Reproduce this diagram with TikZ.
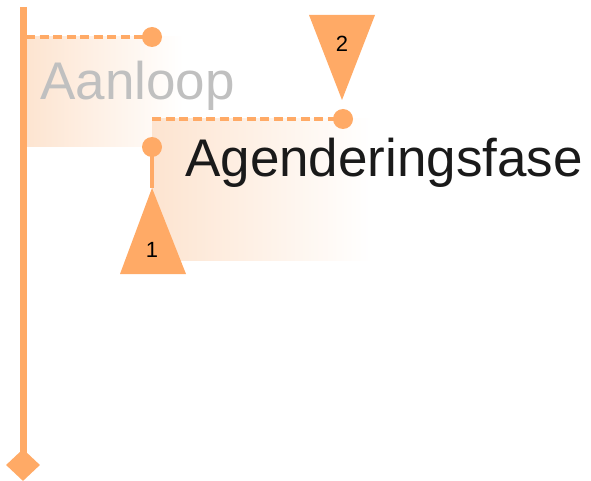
\documentclass[tikz,border=0pt]{standalone}
\usepackage{fontspec}
\setmainfont{Liberation Sans}
\usetikzlibrary{shapes.geometric}
\definecolor{flagorange}{RGB}{255,170,102}
\definecolor{peach}{RGB}{253,228,208}
\definecolor{fadedtext}{RGB}{192,192,192}
\definecolor{darktext}{RGB}{26,26,26}
\begin{document}
\begin{tikzpicture}[x=1pt,y=-1pt,
  flagfill/.style={left color=peach,right color=white,draw=none},
  dashline/.style={draw=flagorange,line width=3.6pt,dash pattern=on 9pt off 4.5pt},
  dot/.style={circle,fill=flagorange,draw=none,minimum size=20pt,inner sep=0pt},
  bigtext/.style={font=\fontsize{53}{53}\selectfont,inner sep=0pt,anchor=base west},
  numtext/.style={font=\fontsize{22}{22}\selectfont,inner sep=0pt,text=black},
  tri/.style={fill=flagorange,draw=none}]
\useasboundingbox (0,0) rectangle (591,481);
% flag backgrounds
\fill[flagfill] (25,37) rectangle (183,147);
\node[bigtext,text=fadedtext] (aanloop) at (40,100) {Aanloop};
\fill[flagfill] (152,119) rectangle (372,260);
\node[bigtext,text=darktext] (agend) at (185,177) {Agenderingsfase};
% pole
\node[diamond,fill=flagorange,minimum width=34pt,minimum height=32pt,inner sep=0pt] (foot) at (23,465) {};
\coordinate (poletop) at (23,7);
\draw[flagorange,line width=7pt] (poletop) -- (foot.center);
% dashed lines and dots
\coordinate (d1) at (26,37);
\node[dot] (c1) at (152,37) {};
\draw[dashline] (d1) -- (c1.center);
\coordinate (d2) at (152,119);
\node[dot] (c2) at (343,119) {};
\draw[dashline] (d2) -- (c2.center);
\node[dot] (c3) at (152,147) {};
\coordinate (apex1) at (152,188);
\draw[flagorange,line width=4pt] (c3.center) -- (apex1);
% triangles
\fill[tri] (apex1) -- (120,274) -- (186,274) -- cycle;
\node[numtext] (n1) at (152,250) {1};
\fill[tri] (309,15) -- (375,15) -- (342,100) -- cycle;
\node[numtext] (n2) at (342,44) {2};
\end{tikzpicture}
\end{document}
